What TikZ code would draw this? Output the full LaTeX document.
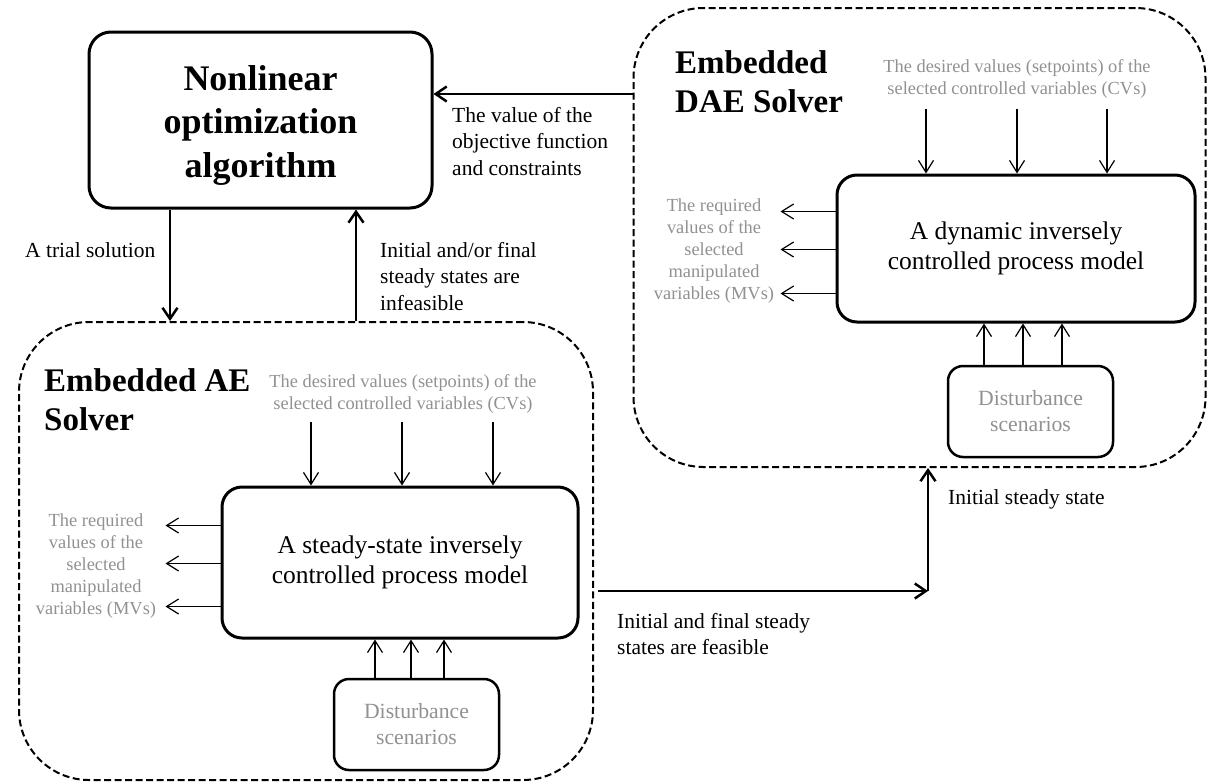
\documentclass[tikz,border=0pt]{standalone}
\usepackage{fontspec}
\setmainfont{Liberation Serif}
\usepackage{tikz}
\usetikzlibrary{arrows.meta,positioning}
\definecolor{notegray}{gray}{0.57}

\begin{document}
\begin{tikzpicture}[x=1pt,y=-1pt,
  box/.style={draw, line width=3pt, rounded corners=20pt, align=center, inner sep=0pt},
  solver/.style={draw, line width=2pt, dash pattern=on 7pt off 3.5pt, rounded corners=70pt, inner sep=0pt},
  distbox/.style={draw, line width=2.5pt, rounded corners=15pt, align=center, inner sep=0pt, text=notegray, font=\fontsize{21.7}{26}\selectfont},
  flow/.style={line width=2.5pt, -{Straight Barb[length=11pt,width=15pt]}},
  signal/.style={line width=1.2pt, -{Straight Barb[length=12pt,width=15pt]}},
  lbl/.style={align=left, inner sep=0pt, font=\fontsize{21.5}{26.5}\selectfont},
  note/.style={align=center, inner sep=0pt, text=notegray, font=\fontsize{18.4}{22}\selectfont},
  heading/.style={align=left, inner sep=0pt, font=\fontsize{33}{39}\selectfont\bfseries}]
\useasboundingbox (0,0) rectangle (1208,782);
% Optimizer
\node[box, minimum width=343pt, minimum height=176pt, rounded corners=22pt] (opt) at (260.5,120) {};
\node[align=center, inner sep=0pt, font=\fontsize{36}{43.5}\selectfont\bfseries] (opttext) at ([yshift=-5pt]opt.center) {Nonlinear\\optimization\\algorithm};
% Embedded AE solver
\node[solver, minimum width=574pt, minimum height=458pt] (ae) at (306,551) {};
\node[heading, anchor=north west] (aehead) at (44,368.5) {Embedded AE\\Solver};
\node[box, minimum width=356pt, minimum height=151pt, font=\fontsize{25.5}{30}\selectfont] (aemodel) at (400,562.5) {A steady-state inversely\\controlled process model};
\node[distbox, minimum width=165pt, minimum height=91pt] (aedist) at (416.5,724.5) {Disturbance\\scenarios};
\node[note] (aesp) at (403,394) {The desired values (setpoints) of the\\selected controlled variables (CVs)};
\node[note] (aemv) at (96,566) {The required\\values of the\\selected\\manipulated\\variables (MVs)};
\foreach \dx in {-89,2,93}
  \draw[signal] ([xshift=\dx pt, yshift=64pt]aemodel.north) -- ([xshift=\dx pt]aemodel.north);
\foreach \dy in {37,-1,-44}
  \draw[signal] ([yshift=\dy pt]aemodel.west) -- ++(-55,0);
\foreach \dx in {-41.5,-5.5,27.5}
  \draw[signal] ([xshift=\dx pt]aedist.north) -- ([xshift=\dx pt]aedist.north |- aemodel.south);
% Embedded DAE solver
\node[solver, minimum width=572pt, minimum height=459pt] (dae) at (919.5,237.5) {};
\node[heading, anchor=north west] (daehead) at (675,50.5) {Embedded\\DAE Solver};
\node[box, minimum width=358pt, minimum height=147pt, font=\fontsize{25.5}{30}\selectfont] (daemodel) at (1016,248.5) {A dynamic inversely\\controlled process model};
\node[distbox, minimum width=165pt, minimum height=91pt] (daedist) at (1030.5,411.5) {Disturbance\\scenarios};
\node[note] (daesp) at (1017,78.5) {The desired values (setpoints) of the\\selected controlled variables (CVs)};
\node[note] (daemv) at (714,251) {The required\\values of the\\selected\\manipulated\\variables (MVs)};
\foreach \dx in {-90,1,91}
  \draw[signal] ([xshift=\dx pt, yshift=65pt]daemodel.north) -- ([xshift=\dx pt]daemodel.north);
\foreach \dy in {37,-1,-45}
  \draw[signal] ([yshift=\dy pt]daemodel.west) -- ++(-55,0);
\foreach \dx in {-46.5,-7.5,31.5}
  \draw[signal] ([xshift=\dx pt]daedist.north) -- ([xshift=\dx pt]daedist.north |- daemodel.south);
% Flows between the blocks
\coordinate (vy) at (0,94);
\coordinate (tx) at (170,0);
\coordinate (ix) at (356,0);
\coordinate (turn) at (928,591);
\draw[flow] (dae.west |- vy) -- (opt.east |- vy);
\draw[flow] (opt.south -| tx) -- (ae.north -| tx);
\draw[flow] (ae.north -| ix) -- (opt.south -| ix);
\draw[flow] ([xshift=4pt]ae.east |- turn) -- (turn);
\draw[flow] (turn) -- (dae.south -| turn);
\node[lbl, anchor=north west] (valuelbl) at (452,107) {The value of the\\objective function\\and constraints};
\node[lbl, anchor=base west] (triallbl) at (25,257) {A trial solution};
\node[lbl, anchor=north west] (infeaslbl) at (380,242) {Initial and/or final\\steady states are\\infeasible};
\node[lbl, anchor=north west] (feaslbl) at (617,613) {Initial and final steady\\states are feasible};
\node[lbl, anchor=base west] (initlbl) at (948,504) {Initial steady state};
\end{tikzpicture}
\end{document}
